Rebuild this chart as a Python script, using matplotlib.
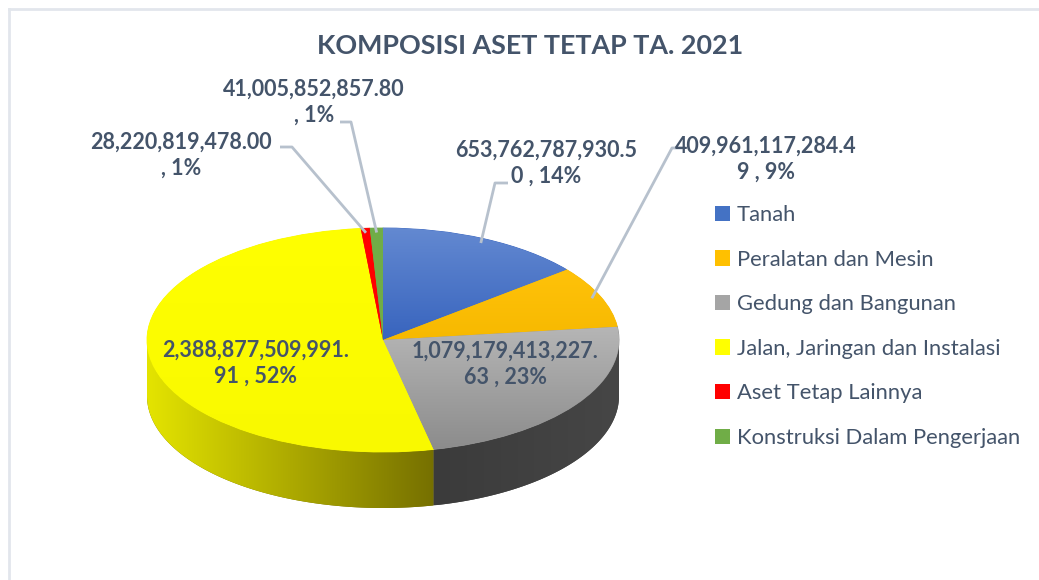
import numpy as np
import matplotlib
matplotlib.use("Agg")
import matplotlib.pyplot as plt
from matplotlib.patches import Polygon, Patch
from matplotlib.lines import Line2D
from matplotlib.colors import to_rgb

plt.rcParams["font.family"] = ["Lato", "DejaVu Sans"]

# data
categories = ["Tanah", "Peralatan dan Mesin", "Gedung dan Bangunan",
              "Jalan, Jaringan dan Instalasi", "Aset Tetap Lainnya",
              "Konstruksi Dalam Pengerjaan"]
values = [653762787930.50, 409961117284.49, 1079179413227.63,
          2388877509991.91, 28220819478.00, 41005852857.80]
# character position where each data label wraps to a second line
wrap_at = [17, 17, 18, 18, 17, 17]
title = "KOMPOSISI ASET TETAP TA. 2021"

# styles
top_colors = [("#6389d1", "#3864be"), ("#ffc20a", "#f7b900"), ("#b6b6b6", "#8c8c8c"),
              ("#ffff00", "#f9f900"), ("#ff0000", "#ff0000"), ("#70ad47", "#70ad47")]
side_colors = [("#2f4f8f", "#2f4f8f"), ("#c09000", "#c09000"), ("#3b3b3b", "#464646"),
               ("#e4e400", "#767000"), ("#b00000", "#b00000"), ("#507d33", "#507d33")]
legend_colors = ["#4472c4", "#ffc000", "#a5a5a5", "#ffff00", "#ff0000", "#70ad47"]
text_color = "#44546a"
line_color = "#b7c1cd"
depth = 0.5

# label centres and leader elbows, in pixels from the top-left corner
label_pos = [(546, 163), (766, 159), (505, 364), (256, 363), (181, 155), (314, 102)]
leaders = {0: [(508, 183), (495, 183)], 1: [(685, 148), (672, 148)],
           4: [(280, 147), (292, 147)], 5: [(340, 122), (351, 122)]}

W, H = 1039, 580
fig = plt.figure(figsize=(W / 100, H / 100), dpi=100)


def fx(px):
    return px / W


def fy(py):
    return 1 - py / H


# light chart frame
fig.add_artist(Line2D([fx(9), 1], [fy(9), fy(9)], color="#e2e6ec", lw=2))
fig.add_artist(Line2D([fx(9), fx(9)], [fy(9), 0], color="#e2e6ec", lw=2))

ax = fig.add_axes([fx(88), fy(536), 590 / W, 341.6 / H])
ax.axis("off")


def gradient(patch, c0, c1, extent, horizontal, z):
    a = np.linspace(0, 1, 256)
    c0 = np.array(to_rgb(c0))
    c1 = np.array(to_rgb(c1))
    cols = c0[None, :] * (1 - a[:, None]) + c1[None, :] * a[:, None]
    img = cols[None, :, :] if horizontal else cols[:, None, :]
    im = ax.imshow(img, extent=extent, aspect="auto", origin="upper",
                   interpolation="bilinear", zorder=z)
    im.set_clip_path(patch)


wedges, _ = ax.pie(values, startangle=90, counterclock=False, radius=1,
                   colors=[c[0] for c in top_colors],
                   wedgeprops=dict(linewidth=0.6, zorder=2))
ax.set_aspect("auto")

for i, w in enumerate(wedges):
    w.set_edgecolor(top_colors[i][1])
    t = np.radians(np.linspace(w.theta1, w.theta2, 300))
    xs = np.r_[0, np.cos(t)]
    ys = np.r_[0, np.sin(t)]
    gradient(w, top_colors[i][0], top_colors[i][1],
             (xs.min(), xs.max(), ys.min(), ys.max()), False, 2.1)

    # visible side wall (front half of the disc)
    front = t[np.sin(t) <= 0]
    if len(front) > 1:
        pts = np.r_[np.c_[np.cos(front), np.sin(front)],
                    np.c_[np.cos(front[::-1]), np.sin(front[::-1]) - depth]]
        side = Polygon(pts, closed=True, facecolor=side_colors[i][1],
                       edgecolor="none", zorder=0.5)
        ax.add_patch(side)
        gradient(side, side_colors[i][0], side_colors[i][1],
                 (pts[:, 0].min(), pts[:, 0].max(), pts[:, 1].min(), pts[:, 1].max()),
                 True, 0.6)

ax.set_xlim(-1.25, 1.25)
ax.set_ylim(-1.75, 1.3)

# data labels
total = sum(values)
for i, v in enumerate(values):
    s = f"{v:,.2f} , {round(v / total * 100)}%"
    s = s[:wrap_at[i]] + "\n" + s[wrap_at[i]:].strip()
    x, y = label_pos[i]
    fig.text(fx(x), fy(y), s, ha="center", va="center", ma="center",
             fontsize=15.5, fontweight="bold", color=text_color, linespacing=1.3)

# leader lines
to_fig = fig.transFigure.inverted()
for i, elbow in leaders.items():
    w = wedges[i]
    mid = np.radians((w.theta1 + w.theta2) / 2)
    ex, ey = to_fig.transform(ax.transData.transform((0.96 * np.cos(mid), 0.96 * np.sin(mid))))
    xs = [fx(elbow[0][0]), fx(elbow[1][0]), ex]
    ys = [fy(elbow[0][1]), fy(elbow[1][1]), ey]
    fig.add_artist(Line2D(xs, ys, color=line_color, lw=2, solid_capstyle="butt"))

fig.text(fx(530), fy(46), title, ha="center", va="center", fontsize=19.4,
         fontweight="bold", color=text_color)

handles = [Patch(facecolor=c, edgecolor="none") for c in legend_colors]
fig.legend(handles, categories, loc="upper left", bbox_to_anchor=(fx(715), fy(205)),
           frameon=False, fontsize=15.8, handlelength=0.7, handleheight=0.7,
           handletextpad=0.3, labelspacing=1.12, labelcolor=text_color,
           borderpad=0, borderaxespad=0)

fig.savefig("out.png", dpi=100)
